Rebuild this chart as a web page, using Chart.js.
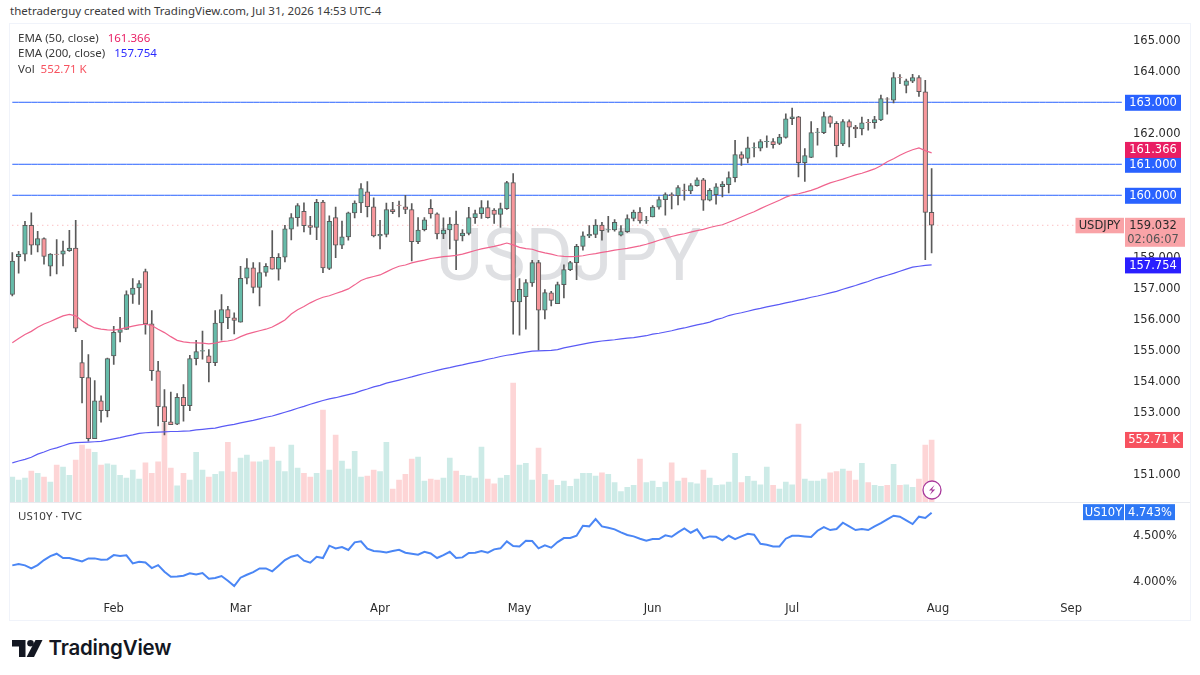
<!DOCTYPE html>
<html>
<head>
<meta charset="utf-8">
<script src="https://cdn.jsdelivr.net/npm/chart.js@4"></script>
<style>
html,body{margin:0;padding:0;background:#fff;width:1200px;height:675px;overflow:hidden}
body{font-family:"Noto Sans",sans-serif;color:#333;position:relative}
canvas{position:absolute;left:0;display:block}
#frame{position:absolute;left:9px;top:23px;width:1180px;height:596px;border:1.5px solid #f0f3fa;pointer-events:none}
#sep{position:absolute;left:10px;top:502px;width:1180px;height:1px;background:#e8eaef}
.t{position:absolute;white-space:pre;font-size:11.5px;line-height:14px;color:#3a3a3a}
.t span{margin-left:3px}
#brand{position:absolute;left:48.5px;top:635px;font-family:Inter,sans-serif;font-weight:600;font-size:20.5px;line-height:26px;color:#131722;letter-spacing:-.2px}
svg{position:absolute}
</style>
</head>
<body>
<div class="t" style="left:10px;top:4px">thetraderguy created with TradingView.com, Jul 31, 2026 14:53 UTC-4</div>
<canvas id="priceChart" width="1191" height="478" style="top:24px"></canvas>
<canvas id="yieldChart" width="1191" height="117" style="top:503px"></canvas>
<div id="frame"></div><div id="sep"></div>
<div class="t" style="left:18px;top:31px">EMA (50, close)  <span style="color:#e91e63">161.366</span></div>
<div class="t" style="left:18px;top:46px">EMA (200, close)  <span style="color:#2a2aff">157.754</span></div>
<div class="t" style="left:18px;top:62px">Vol  <span style="color:#f7525f;margin-left:0">552.71 K</span></div>
<div class="t" style="left:18px;top:509px">US10Y · TVC</div>
<svg style="left:922px;top:480px" width="20" height="20" viewBox="0 0 20 20"><circle cx="10" cy="10" r="9" fill="#fff" stroke="#a83a9c" stroke-width="1.3"/><path d="M12.5 5 7 10.6h3.2L7.8 15l5.4-5.6H10z" fill="#a83a9c"/></svg>
<svg style="left:12px;top:640px" width="31" height="18" viewBox="0 0 31 18"><path d="M0 0h13.5v17H7V6.5H0z" fill="#131722"/><circle cx="18.5" cy="3.3" r="3.3" fill="#131722"/><path d="M23.5 0H30.5L22 17H14.6z" fill="#131722"/></svg>
<div id="brand">TradingView</div>
<script>
const startDate = "2026-01-09";
const totalSlots = 176;
const opens = [
156.80,158.02,158.10,159.03,158.39,158.60,157.71,158.10,158.10,158.21,
158.30,154.60,154.12,152.15,153.37,153.05,154.82,155.58,155.67,156.80,
157.01,157.54,155.85,154.34,153.18,152.69,152.62,153.48,153.21,154.73,
154.97,154.82,154.60,155.88,156.31,156.05,155.91,157.33,157.66,157.03,
157.51,158.00,157.62,158.00,158.91,159.28,159.48,159.02,158.96,159.78,
157.64,159.28,158.39,158.66,159.43,159.75,160.11,159.63,158.69,158.74,
159.54,159.68,159.63,159.54,158.50,158.89,159.58,159.40,158.75,158.88,
159.07,158.69,158.77,159.28,159.41,159.60,159.52,159.38,159.57,160.41,
156.56,156.73,157.17,157.83,156.29,156.85,156.50,157.12,157.60,157.83,
158.35,158.69,158.74,159.04,158.88,158.88,158.71,158.83,159.25,159.46,
159.17,159.30,159.62,159.86,160.02,159.99,160.17,160.14,160.31,160.50,
159.84,160.02,160.28,160.34,160.57,161.31,161.19,161.53,161.52,161.73,
161.73,161.67,161.87,162.47,162.53,161.05,161.22,162.03,162.02,162.54,
162.32,161.66,162.38,162.20,162.14,162.35,162.34,162.43,163.11,163.07,
163.80,163.54,163.68,163.80,163.34,159.45];
const highs = [
158.15,158.19,159.16,159.43,158.84,158.63,158.12,158.57,158.52,158.87,
159.19,155.32,154.86,154.02,153.53,154.75,155.77,156.06,156.92,157.31,
157.25,157.62,156.28,154.64,153.73,153.65,153.60,153.89,154.84,155.32,
155.62,155.02,156.28,156.80,156.42,156.21,157.71,157.96,157.83,157.83,
157.80,158.86,158.12,159.03,159.41,159.73,159.76,159.32,159.87,159.84,
159.34,159.62,159.17,159.46,159.82,160.38,160.44,159.92,159.19,159.75,
159.77,159.81,160.00,159.73,159.28,159.28,159.86,159.43,159.27,159.28,
159.49,158.89,159.61,159.52,159.83,159.82,159.57,159.75,160.45,160.70,
157.31,157.28,157.90,157.90,156.96,156.90,157.20,157.76,157.87,158.42,
158.82,159.02,159.22,159.13,159.32,159.22,159.02,159.37,159.52,159.60,
159.32,159.67,159.95,160.08,160.08,160.31,160.36,160.38,160.56,160.55,
160.22,160.38,160.44,160.76,161.77,161.40,161.88,161.69,161.80,161.92,
161.83,161.97,162.63,162.81,162.55,161.51,162.38,162.16,162.68,162.56,
162.38,162.44,162.43,162.26,162.52,162.45,162.55,163.23,163.15,163.96,
163.89,163.75,163.90,163.86,163.71,160.86];
const lows = [
156.75,157.49,157.88,158.09,158.17,157.78,157.40,157.46,157.72,158.19,
155.60,153.30,152.07,152.15,152.68,152.85,154.54,155.27,155.67,156.51,
156.48,155.52,154.03,152.56,152.27,152.60,152.60,152.71,153.05,154.53,
154.71,153.98,154.50,155.33,155.70,155.53,155.91,157.14,156.85,156.43,
157.39,157.62,157.26,157.85,158.56,159.00,158.82,158.74,158.57,157.50,
157.60,157.99,158.28,158.55,159.27,159.44,159.30,158.66,158.27,158.66,
159.41,159.30,159.41,157.88,158.44,158.85,159.26,158.59,158.60,158.27,
157.60,158.53,158.72,159.09,159.25,159.26,159.09,158.96,159.54,155.52,
155.49,155.68,157.06,155.00,156.01,156.43,156.50,156.69,157.57,157.28,
158.23,158.63,158.63,158.55,158.81,158.84,158.69,158.80,159.17,159.10,
159.09,159.30,159.55,159.36,159.56,159.69,159.84,160.05,160.29,159.51,
159.82,159.71,159.95,160.08,160.43,160.96,161.04,161.24,161.43,161.54,
161.52,161.63,161.84,162.28,160.59,160.45,161.21,161.62,161.99,162.20,
161.24,161.60,161.56,161.86,161.95,162.10,162.16,162.41,162.62,162.98,
163.60,163.30,163.63,163.19,157.92,158.14];
const closes = [
157.88,158.10,159.03,158.39,158.60,158.03,158.10,158.09,158.21,158.30,
155.71,154.12,152.15,153.37,153.05,154.73,155.58,155.67,156.80,157.01,
157.15,155.85,154.34,153.18,152.69,152.60,153.48,153.21,154.73,154.96,
154.99,154.60,155.88,156.31,156.05,155.96,157.32,157.66,157.03,157.51,
157.71,157.62,158.00,158.92,159.28,159.67,159.02,158.96,159.77,157.66,
159.16,158.39,158.66,159.43,159.75,160.22,159.63,158.69,158.74,159.54,
159.47,159.67,159.54,158.50,158.88,159.21,159.40,158.75,158.88,159.07,
158.54,158.78,159.28,159.41,159.60,159.28,159.38,159.57,160.41,156.56,
156.97,157.18,157.83,156.29,156.86,156.61,157.12,157.60,157.83,158.35,
158.69,158.74,159.04,158.86,158.89,159.13,158.83,159.25,159.46,159.17,
159.18,159.62,159.86,160.02,159.99,160.25,160.16,160.31,160.50,159.84,
160.16,160.27,160.36,160.57,161.31,161.19,161.53,161.54,161.73,161.74,
161.63,161.88,162.47,162.53,161.05,161.28,162.02,162.04,162.54,162.32,
161.60,162.38,162.20,162.14,162.34,162.34,162.44,163.12,163.10,163.80,
163.79,163.69,163.80,163.34,159.45,159.032];
const volumes = [
223,196,214,276,255,223,178,330,312,238,
374,508,472,443,330,339,330,238,214,285,
205,350,255,359,704,303,143,255,196,443,
285,223,247,270,532,267,392,419,359,359,
374,490,365,270,508,303,255,223,255,820,
285,597,365,294,451,223,232,285,270,532,
116,196,247,383,401,187,205,196,214,392,
276,238,232,214,490,205,163,214,238,1060,
330,345,196,481,247,196,149,187,140,205,
255,255,232,261,247,172,92,131,149,383,
172,187,131,178,350,187,214,172,163,285,
214,149,154,178,434,172,229,187,154,312,
149,116,178,154,695,205,187,187,205,261,
270,294,276,196,345,172,149,140,149,336,
149,154,131,205,508,552.71];
const ema50 = [
155.24,155.38,155.51,155.61,155.74,155.85,155.93,156.02,156.11,156.16,
156.11,155.95,155.82,155.72,155.68,155.66,155.65,155.68,155.73,155.78,
155.82,155.84,155.80,155.68,155.57,155.44,155.32,155.27,155.25,155.24,
155.23,155.21,155.23,155.28,155.30,155.34,155.44,155.52,155.58,155.63,
155.68,155.75,155.86,155.98,156.17,156.31,156.41,156.53,156.63,156.71,
156.76,156.83,156.90,156.98,157.11,157.25,157.33,157.38,157.43,157.53,
157.63,157.71,157.75,157.82,157.87,157.91,157.96,157.99,158.02,158.04,
158.06,158.10,158.16,158.22,158.27,158.31,158.35,158.40,158.46,158.40,
158.32,158.28,158.26,158.19,158.14,158.10,158.05,158.03,158.02,158.03,
158.05,158.09,158.12,158.16,158.19,158.23,158.26,158.29,158.33,158.37,
158.42,158.48,158.55,158.61,158.67,158.72,158.76,158.81,158.86,158.90,
158.96,159.01,159.05,159.13,159.21,159.30,159.39,159.47,159.57,159.66,
159.75,159.84,159.94,160.01,160.05,160.10,160.16,160.23,160.32,160.40,
160.46,160.52,160.59,160.66,160.71,160.78,160.85,160.95,161.08,161.18,
161.29,161.39,161.47,161.53,161.44,161.366];
const ema200 = [
151.37,151.43,151.48,151.55,151.65,151.72,151.80,151.85,151.92,151.99,
152.02,152.03,152.04,152.05,152.06,152.10,152.14,152.18,152.23,152.27,
152.32,152.34,152.35,152.36,152.37,152.38,152.38,152.39,152.40,152.43,
152.45,152.47,152.49,152.54,152.58,152.61,152.66,152.70,152.74,152.79,
152.84,152.88,152.94,153.00,153.06,153.13,153.19,153.26,153.32,153.38,
153.43,153.47,153.52,153.57,153.62,153.69,153.75,153.82,153.87,153.94,
153.99,154.04,154.09,154.14,154.20,154.25,154.30,154.35,154.40,154.44,
154.49,154.53,154.58,154.62,154.66,154.71,154.75,154.80,154.84,154.87,
154.91,154.94,154.97,154.98,154.99,155.00,155.02,155.08,155.12,155.16,
155.20,155.24,155.27,155.30,155.32,155.34,155.37,155.39,155.41,155.44,
155.47,155.52,155.55,155.59,155.63,155.68,155.72,155.77,155.82,155.86,
155.91,155.99,156.04,156.12,156.17,156.21,156.26,156.31,156.35,156.40,
156.44,156.48,156.53,156.57,156.62,156.66,156.71,156.75,156.80,156.85,
156.90,156.97,157.03,157.09,157.16,157.22,157.30,157.36,157.42,157.48,
157.55,157.62,157.68,157.71,157.74,157.754];
const us10y = [
4.170,4.184,4.170,4.137,4.173,4.228,4.271,4.297,4.250,4.250,
4.231,4.213,4.246,4.246,4.231,4.235,4.282,4.271,4.279,4.192,
4.210,4.202,4.141,4.173,4.101,4.047,4.050,4.058,4.083,4.072,
4.087,4.025,4.032,4.054,4.003,3.945,4.036,4.068,4.097,4.137,
4.137,4.105,4.166,4.228,4.264,4.282,4.221,4.199,4.264,4.250,
4.384,4.355,4.369,4.337,4.420,4.431,4.351,4.326,4.322,4.311,
4.326,4.340,4.308,4.297,4.286,4.318,4.300,4.250,4.282,4.318,
4.250,4.257,4.304,4.308,4.326,4.308,4.344,4.355,4.431,4.380,
4.376,4.438,4.434,4.355,4.387,4.362,4.423,4.467,4.467,4.492,
4.601,4.594,4.673,4.594,4.579,4.561,4.529,4.500,4.485,4.460,
4.438,4.456,4.456,4.496,4.481,4.529,4.572,4.525,4.561,4.463,
4.485,4.481,4.442,4.492,4.456,4.485,4.514,4.503,4.405,4.394,
4.376,4.376,4.460,4.492,4.492,4.485,4.478,4.547,4.587,4.554,
4.565,4.634,4.594,4.554,4.565,4.554,4.594,4.630,4.670,4.710,
4.699,4.659,4.619,4.699,4.685,4.743];
const priceTicks = [165,164,163,162,161,160,159,158,157,156,155,154,153,152,151];
const yieldTicks = [4.5,4.0];
const levels = [163,161,160];
const lastPrice = 159.032, lastEma50 = 161.366, lastEma200 = 157.754, lastVol = 552.71, lastYield = 4.743;
const countdown = "02:06:07";

const UP='#66bba9', DOWN='#f7979c', EDGE='#5a5a5a';
const labels=[];
for(let d=new Date(startDate+'T12:00:00Z');labels.length<totalSlots;d=new Date(d.getTime()+864e5)){
  const w=d.getUTCDay(); if(w>0&&w<6) labels.push(d.toISOString().slice(0,10));
}
const monthNames=['Jan','Feb','Mar','Apr','May','Jun','Jul','Aug','Sep','Oct','Nov','Dec'];
const monthStarts=[];
labels.forEach((s,i)=>{ if(i&&s.slice(5,7)!==labels[i-1].slice(5,7)) monthStarts.push(i); });
const isUp=i=>closes[i]>=opens[i];
const axisFont={family:'"DejaVu Sans"',size:11.5};
const fit=s=>{s.width=66;s.paddingTop=0;s.paddingBottom=0;};
const constant=v=>labels.map(()=>v);
const noGrid={display:false,drawTicks:false};

function badge(ctx,x,w,cy,h,fill,text,color,font){
  ctx.fillStyle=fill;ctx.fillRect(x,cy-h/2,w,h);
  ctx.fillStyle=color;ctx.font=font||'11.5px "DejaVu Sans"';ctx.textAlign='center';ctx.textBaseline='middle';
  ctx.fillText(text,x+w/2,cy+.5);
}
const watermark={id:'watermark',beforeDatasetsDraw(c){
  const {ctx}=c;ctx.save();
  ctx.fillStyle='#dfe0e3';ctx.font='72px Roboto';ctx.textAlign='center';ctx.textBaseline='middle';
  ctx.fillText('USDJPY',568.5,238);ctx.restore();
}};
const priceBadges={id:'priceBadges',afterDraw(c){
  const {ctx,scales:{y,v}}=c;ctx.save();
  const X=1125,W=56;
  levels.forEach(l=>badge(ctx,X,W,y.getPixelForValue(l)+.5,16,'#2962ff',l.toFixed(3),'#fff'));
  badge(ctx,X,W,y.getPixelForValue(lastEma50)-3,16,'#e91e63',lastEma50.toFixed(3),'#fff');
  badge(ctx,X,W,y.getPixelForValue(lastEma200)+.5,16,'#2a1fff',lastEma200.toFixed(3),'#fff');
  const py=y.getPixelForValue(lastPrice);
  ctx.fillStyle='#f9a3a7';ctx.fillRect(X,py-7.5,60,29);ctx.fillRect(1075.5,py-7.5,48.5,15.5);
  ctx.textAlign='center';ctx.textBaseline='middle';
  ctx.fillStyle='#2b2b2b';ctx.font='11.5px "DejaVu Sans"';
  ctx.fillText(lastPrice.toFixed(3),X+28,py+1);
  ctx.fillText('USDJPY',1099.5,py+1);
  ctx.fillStyle='#555';ctx.fillText(countdown,X+28,py+14.5);
  const vy=v.getPixelForValue(lastVol);
  badge(ctx,X,58,vy,16,'#f7525f',lastVol.toFixed(2)+' K','#fff');
  ctx.restore();
}};
const yieldBadges={id:'yieldBadges',afterDraw(c){
  const {ctx,scales:{y}}=c;ctx.save();
  const py=y.getPixelForValue(lastYield);
  badge(ctx,1083,41,py-.5,16,'#2e78f5','US10Y','#fff');
  badge(ctx,1125,50,py-.5,16,'#2e78f5',lastYield.toFixed(3)+'%','#fff');
  ctx.restore();
}};

new Chart(document.getElementById('priceChart'),{
  data:{labels,datasets:[
    {type:'line',label:'EMA 200',data:ema200,yAxisID:'y',borderColor:'#5a5af5',borderWidth:1.2,pointRadius:0,tension:0,order:1},
    {type:'line',label:'EMA 50',data:ema50,yAxisID:'y',borderColor:'#f0648e',borderWidth:1.2,pointRadius:0,tension:0,order:1},
    {type:'bar',label:'Body',data:opens.map((o,i)=>[o,closes[i]]),yAxisID:'y',grouped:false,barThickness:4.6,borderWidth:1,borderSkipped:false,borderColor:EDGE,backgroundColor:opens.map((o,i)=>isUp(i)?UP:DOWN),order:2},
    {type:'bar',label:'Wick',data:lows.map((l,i)=>[l,highs[i]]),yAxisID:'y',grouped:false,barThickness:1,borderWidth:0,backgroundColor:EDGE,order:3},
    ...levels.map(l=>({type:'line',label:'Level '+l,data:constant(l),yAxisID:'y',borderColor:'#2962ff',borderWidth:1,pointRadius:0,order:4})),
    {type:'line',label:'Last',data:constant(lastPrice),yAxisID:'y',borderColor:'#f9a3a7',borderWidth:1,borderDash:[1,4],pointRadius:0,order:4},
    {type:'bar',label:'Volume',data:volumes,yAxisID:'v',grouped:false,barThickness:5,borderWidth:0,backgroundColor:volumes.map((_,i)=>isUp(i)?'#cdebe7':'#fdd5d6'),order:5}
  ]},
  options:{responsive:false,animation:false,devicePixelRatio:1,
    layout:{padding:{left:9.13,right:0,top:0,bottom:0}},
    plugins:{legend:{display:false},tooltip:{enabled:false}},
    scales:{
      x:{type:'category',offset:true,display:false},
      y:{position:'right',min:150.106,max:165.525,grid:noGrid,border:{display:false},afterFit:fit,
         afterBuildTicks:s=>{s.ticks=priceTicks.map(value=>({value}));},
         ticks:{color:'#2b2b2b',font:axisFont,padding:8,labelOffset:1,callback:v=>v.toFixed(3)}},
      v:{display:false,min:0,max:4259}
    }
  },
  plugins:[watermark,priceBadges]
});

new Chart(document.getElementById('yieldChart'),{
  type:'line',
  data:{labels,datasets:[{label:'US10Y',data:us10y,borderColor:'#4a86f5',borderWidth:2,pointRadius:0,tension:0,clip:false}]},
  options:{responsive:false,animation:false,devicePixelRatio:1,
    layout:{padding:{left:9.13,right:0,top:0,bottom:0}},
    plugins:{legend:{display:false},tooltip:{enabled:false}},
    scales:{
      x:{type:'category',offset:true,grid:noGrid,border:{display:false},
         afterFit:s=>{s.height=25;s.paddingLeft=0;s.paddingRight=0;},
         afterBuildTicks:s=>{s.ticks=monthStarts.map(value=>({value}));},
         ticks:{autoSkip:false,maxRotation:0,color:'#2b2b2b',font:axisFont,padding:7,
                callback(v){return monthNames[+labels[v].slice(5,7)-1];}}},
      y:{position:'right',min:3.848,max:4.848,grid:noGrid,border:{display:false},afterFit:fit,
         afterBuildTicks:s=>{s.ticks=yieldTicks.map(value=>({value}));},
         ticks:{color:'#2b2b2b',font:axisFont,padding:8,labelOffset:1,callback:v=>v.toFixed(3)+'%'}}
    }
  },
  plugins:[yieldBadges]
});
</script>
</body>
</html>
